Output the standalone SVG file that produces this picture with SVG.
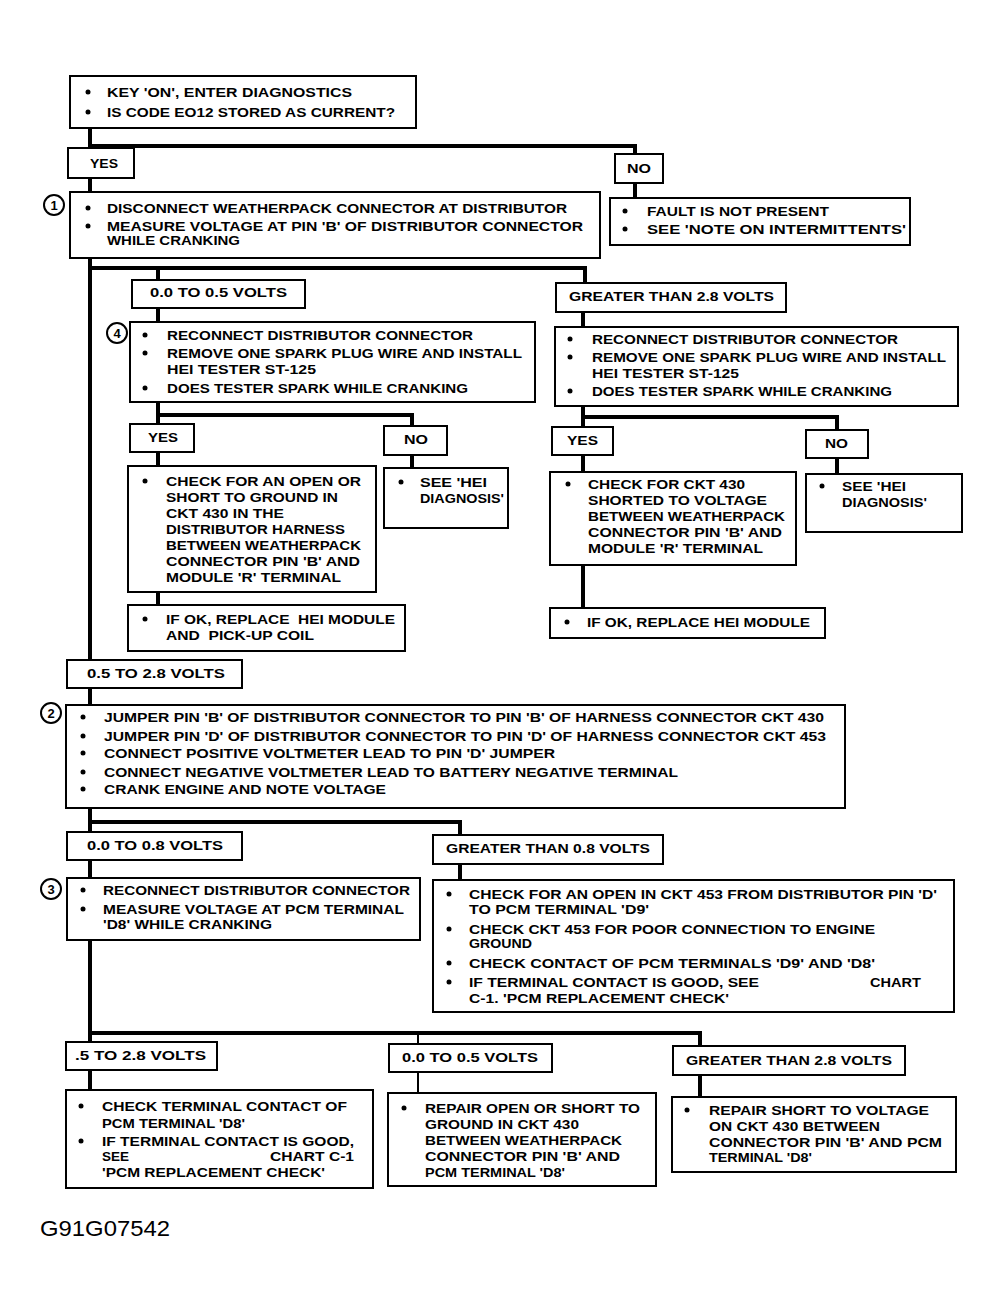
<svg xmlns="http://www.w3.org/2000/svg" width="1000" height="1312" viewBox="0 0 1000 1312">
<style>
.bg{fill:#fff}
.box{fill:#fff;stroke:#000;stroke-width:2}
.c{fill:none;stroke:#000;stroke-width:4}
.ct{fill:none;stroke:#000;stroke-width:2}
.t{font-family:"Liberation Sans",Arial,sans-serif;font-size:13.5px;font-weight:bold;fill:#000}
.n{font-family:"Liberation Sans",Arial,sans-serif;font-size:13px;font-weight:bold;fill:#000;text-anchor:middle}
.num{fill:#fff;stroke:#000;stroke-width:2}
.dot{fill:#000}
.id{font-family:"Liberation Sans",Arial,sans-serif;font-size:22px;fill:#000}
</style>
<rect class="bg" x="0" y="0" width="1000" height="1312"/>
<g id="connectors">
<path class="c" d="M90 128V148M90 146H635V154M90 178V192M635 183V198M90 258V660M90 268H585V283M158 268V280M158 308V322M158 402V424M158 415H412V426M158 452V466M158 592V605M412 455V468M583 312V327M583 406V427M583 417H837V430M583 455V472M583 565V608M837 458V474M90 688V705M90 808V832M90 822H460V835M90 860V878M90 940V1042M90 1033H700V1046M460 864V880M90 1070V1090M700 1075V1097"/>
<path class="ct" d="M418 1033V1044M418 1072V1093"/>
</g>
<g id="start">
<rect class="box" x="70" y="76" width="346" height="52"/>
<circle class="dot" cx="88" cy="92" r="2.5"/><circle class="dot" cx="88" cy="112" r="2.5"/>
<text class="t" x="107" y="97" textLength="245" lengthAdjust="spacingAndGlyphs">KEY 'ON', ENTER DIAGNOSTICS</text>
<text class="t" x="107" y="117" textLength="288" lengthAdjust="spacingAndGlyphs">IS CODE EO12 STORED AS CURRENT?</text>
</g>
<g id="yes1"><rect class="box" x="68" y="148" width="66" height="30"/><text class="t" x="90" y="168" textLength="28" lengthAdjust="spacingAndGlyphs">YES</text></g>
<g id="no1"><rect class="box" x="615" y="154" width="48" height="29"/><text class="t" x="627" y="173" textLength="24" lengthAdjust="spacingAndGlyphs">NO</text></g>
<g id="step1">
<rect class="box" x="70" y="192" width="530" height="66"/>
<circle class="dot" cx="88" cy="208" r="2.5"/><circle class="dot" cx="88" cy="226" r="2.5"/>
<text class="t" x="107" y="213" textLength="460" lengthAdjust="spacingAndGlyphs">DISCONNECT WEATHERPACK CONNECTOR AT DISTRIBUTOR</text>
<text class="t" x="107" y="231" textLength="476" lengthAdjust="spacingAndGlyphs">MEASURE VOLTAGE AT PIN 'B' OF DISTRIBUTOR CONNECTOR</text>
<text class="t" x="107" y="245" textLength="133" lengthAdjust="spacingAndGlyphs">WHILE CRANKING</text>
<circle class="num" cx="54" cy="205" r="10"/><text class="n" x="54" y="210">1</text>
</g>
<g id="noresult1">
<rect class="box" x="610" y="198" width="300" height="47"/>
<circle class="dot" cx="625" cy="211" r="2.5"/><circle class="dot" cx="625" cy="229" r="2.5"/>
<text class="t" x="647" y="216" textLength="182" lengthAdjust="spacingAndGlyphs">FAULT IS NOT PRESENT</text>
<text class="t" x="647" y="234" textLength="259" lengthAdjust="spacingAndGlyphs">SEE 'NOTE ON INTERMITTENTS'</text>
</g>
<g id="v00to05a"><rect class="box" x="132" y="280" width="173" height="28"/><text class="t" x="150" y="297" textLength="137" lengthAdjust="spacingAndGlyphs">0.0 TO 0.5 VOLTS</text></g>
<g id="vgt28a"><rect class="box" x="556" y="283" width="230" height="29"/><text class="t" x="569" y="301" textLength="205" lengthAdjust="spacingAndGlyphs">GREATER THAN 2.8 VOLTS</text></g>
<g id="step4">
<rect class="box" x="130" y="322" width="405" height="80"/>
<circle class="dot" cx="145" cy="335" r="2.5"/><circle class="dot" cx="145" cy="353" r="2.5"/><circle class="dot" cx="145" cy="388" r="2.5"/>
<text class="t" x="167" y="340" textLength="306" lengthAdjust="spacingAndGlyphs">RECONNECT DISTRIBUTOR CONNECTOR</text>
<text class="t" x="167" y="358" textLength="355" lengthAdjust="spacingAndGlyphs">REMOVE ONE SPARK PLUG WIRE AND INSTALL</text>
<text class="t" x="167" y="374" textLength="149" lengthAdjust="spacingAndGlyphs">HEI TESTER ST-125</text>
<text class="t" x="167" y="393" textLength="301" lengthAdjust="spacingAndGlyphs">DOES TESTER SPARK WHILE CRANKING</text>
<circle class="num" cx="117" cy="333" r="10"/><text class="n" x="117" y="338">4</text>
</g>
<g id="spark2">
<rect class="box" x="555" y="327" width="403" height="79"/>
<circle class="dot" cx="570" cy="339" r="2.5"/><circle class="dot" cx="570" cy="357" r="2.5"/><circle class="dot" cx="570" cy="391" r="2.5"/>
<text class="t" x="592" y="344" textLength="306" lengthAdjust="spacingAndGlyphs">RECONNECT DISTRIBUTOR CONNECTOR</text>
<text class="t" x="592" y="362" textLength="354" lengthAdjust="spacingAndGlyphs">REMOVE ONE SPARK PLUG WIRE AND INSTALL</text>
<text class="t" x="592" y="378" textLength="147" lengthAdjust="spacingAndGlyphs">HEI TESTER ST-125</text>
<text class="t" x="592" y="396" textLength="300" lengthAdjust="spacingAndGlyphs">DOES TESTER SPARK WHILE CRANKING</text>
</g>
<g id="yes4"><rect class="box" x="130" y="424" width="64" height="28"/><text class="t" x="148" y="442" textLength="30" lengthAdjust="spacingAndGlyphs">YES</text></g>
<g id="no4"><rect class="box" x="384" y="426" width="63" height="29"/><text class="t" x="404" y="444" textLength="24" lengthAdjust="spacingAndGlyphs">NO</text></g>
<g id="check430open">
<rect class="box" x="128" y="466" width="248" height="126"/>
<circle class="dot" cx="145" cy="481" r="2.5"/>
<text class="t" x="166" y="486" textLength="195" lengthAdjust="spacingAndGlyphs">CHECK FOR AN OPEN OR</text>
<text class="t" x="166" y="502" textLength="172" lengthAdjust="spacingAndGlyphs">SHORT TO GROUND IN</text>
<text class="t" x="166" y="518" textLength="118" lengthAdjust="spacingAndGlyphs">CKT 430 IN THE</text>
<text class="t" x="166" y="534" textLength="179" lengthAdjust="spacingAndGlyphs">DISTRIBUTOR HARNESS</text>
<text class="t" x="166" y="550" textLength="195" lengthAdjust="spacingAndGlyphs">BETWEEN WEATHERPACK</text>
<text class="t" x="166" y="566" textLength="194" lengthAdjust="spacingAndGlyphs">CONNECTOR PIN 'B' AND</text>
<text class="t" x="166" y="582" textLength="175" lengthAdjust="spacingAndGlyphs">MODULE 'R' TERMINAL</text>
</g>
<g id="hei1">
<rect class="box" x="384" y="468" width="124" height="60"/>
<circle class="dot" cx="401" cy="482" r="2.5"/>
<text class="t" x="420" y="487" textLength="67" lengthAdjust="spacingAndGlyphs">SEE 'HEI</text>
<text class="t" x="420" y="503" textLength="84" lengthAdjust="spacingAndGlyphs">DIAGNOSIS'</text>
</g>
<g id="replace1">
<rect class="box" x="128" y="605" width="277" height="46"/>
<circle class="dot" cx="145" cy="619" r="2.5"/>
<text class="t" x="166" y="624" textLength="229" lengthAdjust="spacingAndGlyphs" xml:space="preserve">IF OK, REPLACE  HEI MODULE</text>
<text class="t" x="166" y="640" textLength="148" lengthAdjust="spacingAndGlyphs" xml:space="preserve">AND  PICK-UP COIL</text>
</g>
<g id="yes5"><rect class="box" x="552" y="427" width="61" height="28"/><text class="t" x="567" y="445" textLength="31" lengthAdjust="spacingAndGlyphs">YES</text></g>
<g id="no5"><rect class="box" x="806" y="430" width="62" height="28"/><text class="t" x="825" y="448" textLength="23" lengthAdjust="spacingAndGlyphs">NO</text></g>
<g id="check430short">
<rect class="box" x="550" y="472" width="246" height="93"/>
<circle class="dot" cx="568" cy="484" r="2.5"/>
<text class="t" x="588" y="489" textLength="157" lengthAdjust="spacingAndGlyphs">CHECK FOR CKT 430</text>
<text class="t" x="588" y="505" textLength="179" lengthAdjust="spacingAndGlyphs">SHORTED TO VOLTAGE</text>
<text class="t" x="588" y="521" textLength="197" lengthAdjust="spacingAndGlyphs">BETWEEN WEATHERPACK</text>
<text class="t" x="588" y="537" textLength="194" lengthAdjust="spacingAndGlyphs">CONNECTOR PIN 'B' AND</text>
<text class="t" x="588" y="553" textLength="175" lengthAdjust="spacingAndGlyphs">MODULE 'R' TERMINAL</text>
</g>
<g id="hei2">
<rect class="box" x="806" y="474" width="156" height="58"/>
<circle class="dot" cx="822" cy="486" r="2.5"/>
<text class="t" x="842" y="491" textLength="64" lengthAdjust="spacingAndGlyphs">SEE 'HEI</text>
<text class="t" x="842" y="507" textLength="85" lengthAdjust="spacingAndGlyphs">DIAGNOSIS'</text>
</g>
<g id="replace2">
<rect class="box" x="550" y="608" width="275" height="30"/>
<circle class="dot" cx="567" cy="622" r="2.5"/>
<text class="t" x="587" y="627" textLength="223" lengthAdjust="spacingAndGlyphs">IF OK, REPLACE HEI MODULE</text>
</g>
<g id="v05to28a"><rect class="box" x="67" y="660" width="175" height="28"/><text class="t" x="87" y="678" textLength="138" lengthAdjust="spacingAndGlyphs">0.5 TO 2.8 VOLTS</text></g>
<g id="step2">
<rect class="box" x="66" y="705" width="779" height="103"/>
<circle class="dot" cx="83" cy="717" r="2.5"/><circle class="dot" cx="83" cy="736" r="2.5"/><circle class="dot" cx="83" cy="753" r="2.5"/><circle class="dot" cx="83" cy="772" r="2.5"/><circle class="dot" cx="83" cy="789" r="2.5"/>
<text class="t" x="104" y="722" textLength="720" lengthAdjust="spacingAndGlyphs">JUMPER PIN 'B' OF DISTRIBUTOR CONNECTOR TO PIN 'B' OF HARNESS CONNECTOR CKT 430</text>
<text class="t" x="104" y="741" textLength="722" lengthAdjust="spacingAndGlyphs">JUMPER PIN 'D' OF DISTRIBUTOR CONNECTOR TO PIN 'D' OF HARNESS CONNECTOR CKT 453</text>
<text class="t" x="104" y="758" textLength="451" lengthAdjust="spacingAndGlyphs">CONNECT POSITIVE VOLTMETER LEAD TO PIN 'D' JUMPER</text>
<text class="t" x="104" y="777" textLength="574" lengthAdjust="spacingAndGlyphs">CONNECT NEGATIVE VOLTMETER LEAD TO BATTERY NEGATIVE TERMINAL</text>
<text class="t" x="104" y="794" textLength="282" lengthAdjust="spacingAndGlyphs">CRANK ENGINE AND NOTE VOLTAGE</text>
<circle class="num" cx="51" cy="713" r="10"/><text class="n" x="51" y="718">2</text>
</g>
<g id="v00to08"><rect class="box" x="67" y="832" width="175" height="28"/><text class="t" x="87" y="850" textLength="136" lengthAdjust="spacingAndGlyphs">0.0 TO 0.8 VOLTS</text></g>
<g id="vgt08"><rect class="box" x="433" y="835" width="230" height="29"/><text class="t" x="446" y="853" textLength="204" lengthAdjust="spacingAndGlyphs">GREATER THAN 0.8 VOLTS</text></g>
<g id="step3">
<rect class="box" x="67" y="878" width="353" height="62"/>
<circle class="dot" cx="83" cy="890" r="2.5"/><circle class="dot" cx="83" cy="909" r="2.5"/>
<text class="t" x="103" y="895" textLength="307" lengthAdjust="spacingAndGlyphs">RECONNECT DISTRIBUTOR CONNECTOR</text>
<text class="t" x="103" y="914" textLength="301" lengthAdjust="spacingAndGlyphs">MEASURE VOLTAGE AT PCM TERMINAL</text>
<text class="t" x="103" y="929" textLength="169" lengthAdjust="spacingAndGlyphs">'D8' WHILE CRANKING</text>
<circle class="num" cx="51" cy="889" r="10"/><text class="n" x="51" y="894">3</text>
</g>
<g id="check453">
<rect class="box" x="433" y="880" width="521" height="132"/>
<circle class="dot" cx="449" cy="894" r="2.5"/><circle class="dot" cx="449" cy="929" r="2.5"/><circle class="dot" cx="449" cy="963" r="2.5"/><circle class="dot" cx="449" cy="982" r="2.5"/>
<text class="t" x="469" y="899" textLength="468" lengthAdjust="spacingAndGlyphs">CHECK FOR AN OPEN IN CKT 453 FROM DISTRIBUTOR PIN 'D'</text>
<text class="t" x="469" y="914" textLength="180" lengthAdjust="spacingAndGlyphs">TO PCM TERMINAL 'D9'</text>
<text class="t" x="469" y="934" textLength="406" lengthAdjust="spacingAndGlyphs">CHECK CKT 453 FOR POOR CONNECTION TO ENGINE</text>
<text class="t" x="469" y="948" textLength="63" lengthAdjust="spacingAndGlyphs">GROUND</text>
<text class="t" x="469" y="968" textLength="406" lengthAdjust="spacingAndGlyphs">CHECK CONTACT OF PCM TERMINALS 'D9' AND 'D8'</text>
<text class="t" x="469" y="987" textLength="290" lengthAdjust="spacingAndGlyphs">IF TERMINAL CONTACT IS GOOD, SEE</text>
<text class="t" x="870" y="987" textLength="51" lengthAdjust="spacingAndGlyphs">CHART</text>
<text class="t" x="469" y="1003" textLength="260" lengthAdjust="spacingAndGlyphs">C-1. 'PCM REPLACEMENT CHECK'</text>
</g>
<g id="v05to28b"><rect class="box" x="66" y="1042" width="151" height="28"/><text class="t" x="75" y="1060" textLength="131" lengthAdjust="spacingAndGlyphs">.5 TO 2.8 VOLTS</text></g>
<g id="v00to05b"><rect class="box" x="389" y="1044" width="163" height="28"/><text class="t" x="402" y="1062" textLength="136" lengthAdjust="spacingAndGlyphs">0.0 TO 0.5 VOLTS</text></g>
<g id="vgt28b"><rect class="box" x="673" y="1046" width="232" height="29"/><text class="t" x="686" y="1065" textLength="206" lengthAdjust="spacingAndGlyphs">GREATER THAN 2.8 VOLTS</text></g>
<g id="checkcontact">
<rect class="box" x="66" y="1090" width="307" height="98"/>
<circle class="dot" cx="81" cy="1106" r="2.5"/><circle class="dot" cx="81" cy="1141" r="2.5"/>
<text class="t" x="102" y="1111" textLength="245" lengthAdjust="spacingAndGlyphs">CHECK TERMINAL CONTACT OF</text>
<text class="t" x="102" y="1128" textLength="143" lengthAdjust="spacingAndGlyphs">PCM TERMINAL 'D8'</text>
<text class="t" x="102" y="1146" textLength="252" lengthAdjust="spacingAndGlyphs">IF TERMINAL CONTACT IS GOOD,</text>
<text class="t" x="102" y="1161" textLength="27" lengthAdjust="spacingAndGlyphs">SEE</text>
<text class="t" x="270" y="1161" textLength="84" lengthAdjust="spacingAndGlyphs">CHART C-1</text>
<text class="t" x="102" y="1177" textLength="223" lengthAdjust="spacingAndGlyphs">'PCM REPLACEMENT CHECK'</text>
</g>
<g id="repairopen">
<rect class="box" x="388" y="1093" width="268" height="93"/>
<circle class="dot" cx="404" cy="1108" r="2.5"/>
<text class="t" x="425" y="1113" textLength="215" lengthAdjust="spacingAndGlyphs">REPAIR OPEN OR SHORT TO</text>
<text class="t" x="425" y="1129" textLength="154" lengthAdjust="spacingAndGlyphs">GROUND IN CKT 430</text>
<text class="t" x="425" y="1145" textLength="197" lengthAdjust="spacingAndGlyphs">BETWEEN WEATHERPACK</text>
<text class="t" x="425" y="1161" textLength="195" lengthAdjust="spacingAndGlyphs">CONNECTOR PIN 'B' AND</text>
<text class="t" x="425" y="1177" textLength="140" lengthAdjust="spacingAndGlyphs">PCM TERMINAL 'D8'</text>
</g>
<g id="repairshort">
<rect class="box" x="672" y="1097" width="284" height="75"/>
<circle class="dot" cx="687" cy="1110" r="2.5"/>
<text class="t" x="709" y="1115" textLength="220" lengthAdjust="spacingAndGlyphs">REPAIR SHORT TO VOLTAGE</text>
<text class="t" x="709" y="1131" textLength="171" lengthAdjust="spacingAndGlyphs">ON CKT 430 BETWEEN</text>
<text class="t" x="709" y="1147" textLength="233" lengthAdjust="spacingAndGlyphs">CONNECTOR PIN 'B' AND PCM</text>
<text class="t" x="709" y="1162" textLength="103" lengthAdjust="spacingAndGlyphs">TERMINAL 'D8'</text>
</g>
<text class="id" x="40" y="1236" textLength="130" lengthAdjust="spacingAndGlyphs">G91G07542</text>
</svg>
